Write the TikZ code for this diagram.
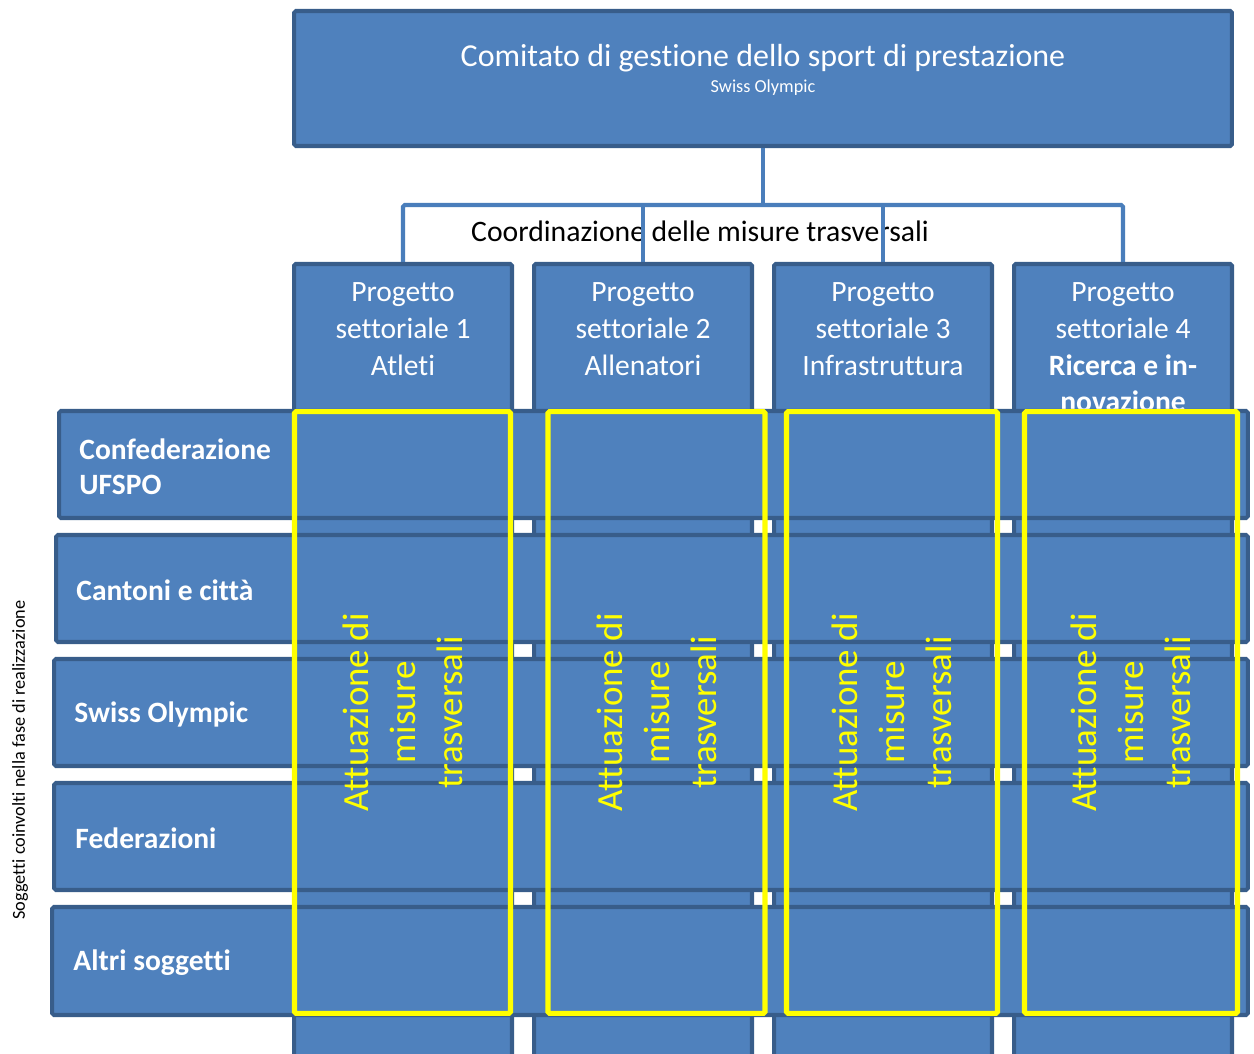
\documentclass[tikz,border=0pt]{standalone}
\usepackage{fontspec}
\setmainfont{Carlito}[Ligatures=NoCommon]
\usetikzlibrary{calc,positioning}

\definecolor{boxfill}{HTML}{4F81BD}
\definecolor{boxline}{HTML}{385D8A}
\definecolor{linkblue}{HTML}{4A7EBB}
\definecolor{yel}{HTML}{FFFF00}

\tikzset{
	box/.style={draw=boxline, fill=boxfill, line width=2.3pt, rounded corners=1pt, inner sep=0pt},
	link/.style={draw=linkblue, line width=2.4pt, rounded corners=1pt},
	yframe/.style={draw=yel, line width=2.9pt, rounded corners=1pt, text=yel, align=center,
		font=\fontsize{21}{26.7}\selectfont},
	coltext/.style={text=white, align=center, inner sep=0pt, font=\fontsize{16.8}{21}\selectfont},
	rowtext/.style={text=white, align=left, inner sep=0pt, font=\bfseries\fontsize{16.8}{19.9}\selectfont}
}

\begin{document}
\begin{tikzpicture}[x=0.02cm, y=-0.02cm]

	% page size of the reference, in pixels
	\useasboundingbox (0,0) rectangle (1254,1054);
	\clip (0,0) rectangle (1254,1054);

	% committee on top
	\node[box, minimum width=18.76cm, minimum height=2.7cm] (top) at (763,78.5) {};
	\node[text=white, font=\fontsize{18.2}{21}\selectfont, anchor=base] (ttl) at (763,67)
		{Comitato di gestione dello sport di prestazione};
	\node[text=white, font=\fontsize{10.4}{12}\selectfont, anchor=base] (sub) at (763,93) {Swiss Olympic};

	% the four projects (they run out at the bottom)
	\node[box, minimum width=4.36cm, minimum height=17cm, anchor=north] (c1) at (403,262) {};
	\node[box, minimum width=4.36cm, minimum height=17cm, anchor=north] (c2) at (643,262) {};
	\node[box, minimum width=4.36cm, minimum height=17cm, anchor=north] (c3) at (883,262) {};
	\node[box, minimum width=4.36cm, minimum height=17cm, anchor=north] (c4) at (1123,262) {};

	\node[coltext, anchor=north] (p1) at ($(c1.north)+(0,20)$) {Progetto\\settoriale 1\\Atleti};
	\node[coltext, anchor=north] (p2) at ($(c2.north)+(0,20)$) {Progetto\\settoriale 2\\Allenatori};
	\node[coltext, anchor=north] (p3) at ($(c3.north)+(0,20)$) {Progetto\\settoriale 3\\Infrastruttura};
	\node[coltext, anchor=north] (p4) at ($(c4.north)+(0,20)$) {Progetto\\settoriale 4\\\textbf{Ricerca e in-}\\\textbf{novazione}};

	% coordination label and the bus between committee and projects
	\node[font=\fontsize{16.9}{21}\selectfont, anchor=base] (coord) at (700,242)
		{Coordinazione delle misure trasversali};
	\coordinate (bus) at (763,205);
	\draw[link] (top.south) -- (bus);
	\draw[link] (c1.north) |- (bus) -| (c4.north);
	\draw[link] (c2.north) -- (c2.north |- bus);
	\draw[link] (c3.north) -- (c3.north |- bus);

	% the actors, laid over the projects
	\node[box, minimum width=23.78cm, minimum height=2.14cm] (r1) at (653.5,464.5) {};
	\node[box, minimum width=23.84cm, minimum height=2.14cm] (r2) at (652,588.5) {};
	\node[box, minimum width=23.88cm, minimum height=2.14cm] (r3) at (651,712.5) {};
	\node[box, minimum width=23.88cm, minimum height=2.14cm] (r4) at (651,836.5) {};
	\node[box, minimum width=23.92cm, minimum height=2.16cm] (r5) at (650,961) {};

	\node[rowtext, anchor=west] (s1) at ($(r1.west)+(22,2)$) {Confederazione\\UFSPO};
	\node[rowtext, anchor=west] (s2) at ($(r2.west)+(22,2)$) {Cantoni e città};
	\node[rowtext, anchor=west] (s3) at ($(r3.west)+(22,2)$) {Swiss Olympic};
	\node[rowtext, anchor=west] (s4) at ($(r4.west)+(23,2)$) {Federazioni};
	\node[rowtext, anchor=west] (s5) at ($(r5.west)+(23,2)$) {Altri soggetti};

	% yellow frames: cross measures inside each project
	\node[yframe, rotate=90, minimum width=12.04cm, minimum height=4.32cm] (a1) at (402.5,712.5) {Attuazione di\\misure\\trasversali};
	\node[yframe, rotate=90, minimum width=12.04cm, minimum height=4.34cm] (a2) at (656.5,712.5) {Attuazione di\\misure\\trasversali};
	\node[yframe, rotate=90, minimum width=12.04cm, minimum height=4.22cm] (a3) at (892,712.5) {Attuazione di\\misure\\trasversali};
	\node[yframe, rotate=90, minimum width=12.04cm, minimum height=4.26cm] (a4) at (1131,712.5) {Attuazione di\\misure\\trasversali};

	% side caption
	\node[rotate=90, font=\fontsize{10.4}{12}\selectfont] (side) at (20,760) {Soggetti coinvolti nella fase di realizzazione};

\end{tikzpicture}
\end{document}
